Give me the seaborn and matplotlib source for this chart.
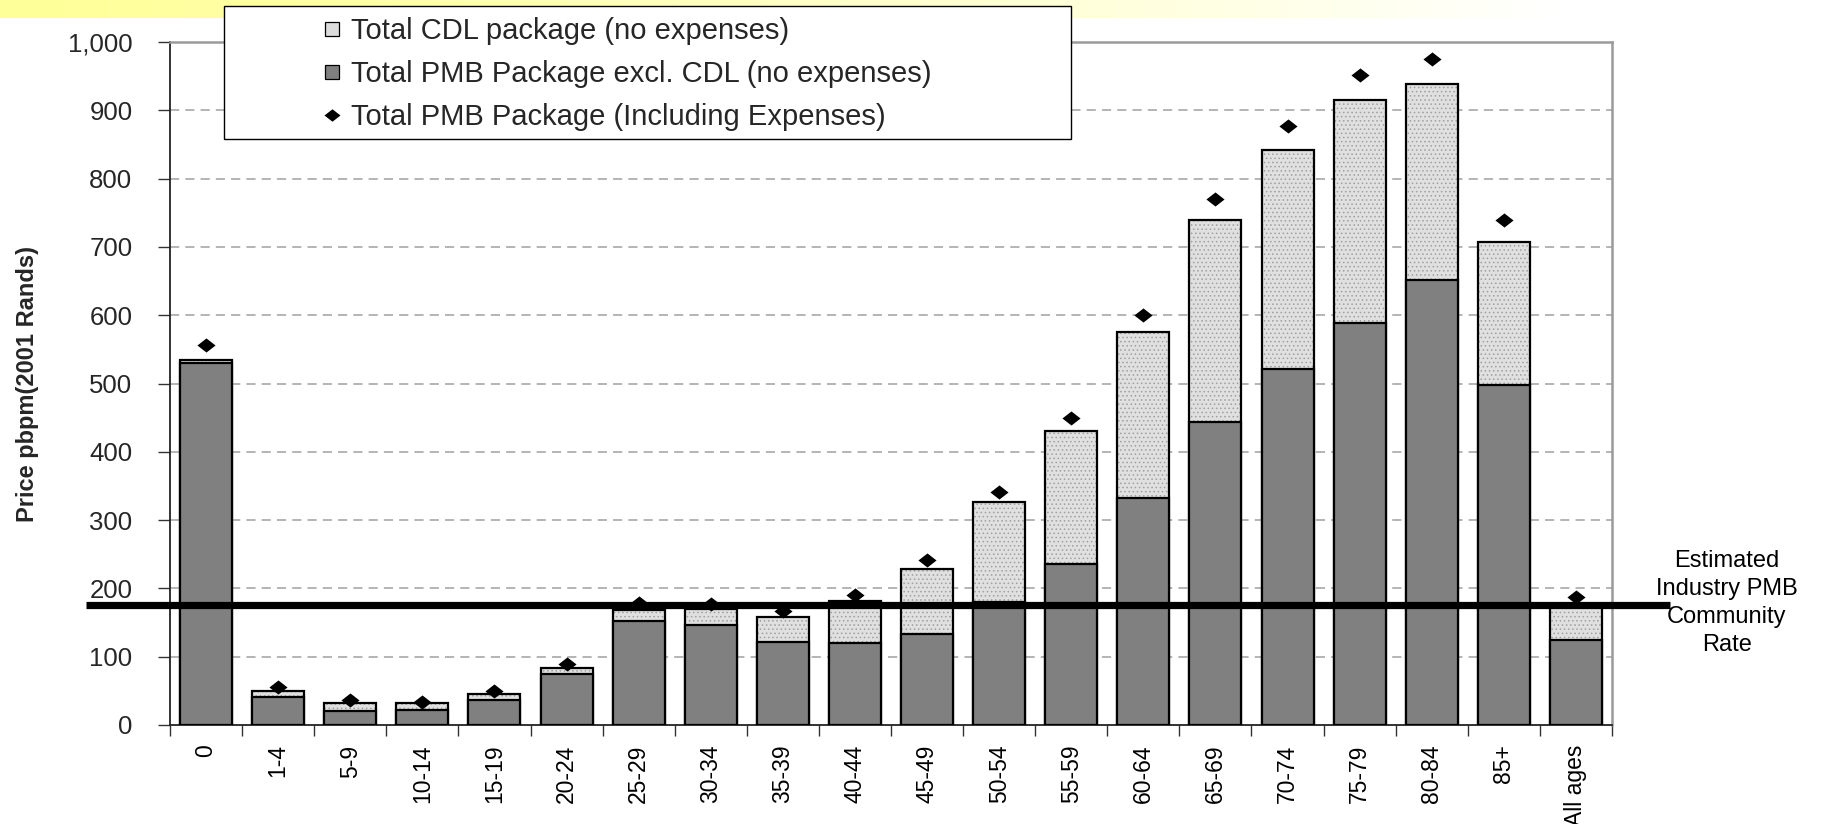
import numpy as np
import pandas as pd
import matplotlib
matplotlib.use("Agg")
import matplotlib.pyplot as plt
import seaborn as sns
from matplotlib.lines import Line2D
from matplotlib.patches import Rectangle
from matplotlib.ticker import FuncFormatter, FixedLocator

# ---------------- data ----------------
age_bands = ["0", "1-4", "5-9", "10-14", "15-19", "20-24", "25-29", "30-34",
             "35-39", "40-44", "45-49", "50-54", "55-59", "60-64", "65-69",
             "70-74", "75-79", "80-84", "85+", "All ages"]
pmb_excl_cdl = [530, 41, 20, 22, 37, 75, 153, 147, 121, 120, 133, 180, 235,
                333, 443, 521, 589, 651, 498, 124]
total_cdl_package = [535, 50, 32, 32, 45, 84, 169, 170, 158, 182, 228, 326,
                     430, 575, 740, 842, 915, 938, 707, 175]
total_pmb_incl_expenses = [557, 55, 37, 34, 50, 89, 178, 177, 167, 190, 241,
                           341, 450, 600, 770, 877, 952, 975, 739, 187]
community_rate = 176
y_ticks = [0, 100, 200, 300, 400, 500, 600, 700, 800, 900, 1000]

legend_labels = ["Total CDL package (no expenses)",
                 "Total PMB Package excl. CDL (no expenses)",
                 "Total PMB Package (Including Expenses)"]
y_label = "Price pbpm(2001 Rands)"
rate_label = "Estimated\nIndustry PMB\nCommunity\nRate"

df = pd.DataFrame({"age": age_bands, "pmb": pmb_excl_cdl,
                   "total": total_cdl_package, "incl": total_pmb_incl_expenses})
df["pos"] = np.arange(len(df))

# ---------------- style ----------------
sns.set_theme(style="white")
plt.rcParams["font.family"] = ["Liberation Sans", "DejaVu Sans"]
plt.rcParams["hatch.linewidth"] = 0.6

W, H = 1843, 824
fig = plt.figure(figsize=(W / 100, H / 100), dpi=100, facecolor="white")

# yellow strip at the very top
strip = fig.add_axes([0, 1 - 18 / H, 1, 18 / H])
grad = np.linspace(0, 1, 256)
rgb = np.zeros((1, 256, 3))
rgb[0, :, 0] = 1.0
rgb[0, :, 1] = 1.0
rgb[0, :, 2] = 0.60 + 0.40 * np.clip(grad / 0.85, 0, 1) ** 1.2
strip.imshow(rgb, aspect="auto", extent=[0, 1, 0, 1])
strip.set_axis_off()

L, R, T, B = 170, 1612, 42, 725
ax = fig.add_axes([L / W, 1 - B / H, (R - L) / W, (B - T) / H])

light = "#E0E0E0"
dark = "#808080"
bw = 0.72

# CDL (total) bars: stippled fill
sns.barplot(data=df, x="age", y="total", color=light, width=bw, saturation=1,
            edgecolor="#A0A0A0", linewidth=0, ax=ax, zorder=2)
for p in ax.patches:
    p.set_hatch("....")
# outlines for the totals
sns.barplot(data=df, x="age", y="total", width=bw, fill=False,
            edgecolor="black", linewidth=1.6, ax=ax, zorder=3)
# PMB excl CDL bars
sns.barplot(data=df, x="age", y="pmb", color=dark, width=bw, saturation=1,
            edgecolor="black", linewidth=1.6, ax=ax, zorder=4)

# diamonds
diamond = [(-1, 0), (0, 0.78), (1, 0), (0, -0.78), (-1, 0)]
sns.scatterplot(data=df, x="pos", y="incl", marker=diamond, s=170,
                color="black", edgecolor="black", linewidth=0, ax=ax,
                zorder=6, legend=False)

# community rate line extending beyond the axes
ax.axhline(community_rate, xmin=-0.0583, xmax=1.0402, color="black",
           linewidth=5.2, clip_on=False, zorder=7, solid_capstyle="butt")

# axes formatting
ax.set_xlim(-0.5, len(age_bands) - 0.5)
ax.set_ylim(0, 1000)
ax.yaxis.set_major_locator(FixedLocator(y_ticks))
ax.yaxis.set_major_formatter(FuncFormatter(lambda v, _: f"{v:,.0f}"))
ax.set_xticks(np.arange(len(age_bands)))
ax.set_xticklabels(age_bands, rotation=90, va="top", ha="center")
ax.xaxis.set_minor_locator(FixedLocator(np.arange(len(age_bands) + 1) - 0.5))
ax.tick_params(axis="x", which="major", length=0, pad=14, labelsize=16.5,
               colors="black")
ax.tick_params(axis="x", which="minor", length=8, width=1.0, color="#333333",
               bottom=True, direction="out")
ax.tick_params(axis="y", which="major", length=9, width=1.0, color="#333333",
               left=True, direction="out", pad=18, labelsize=18.5)
ax.set_xlabel("")
ax.set_ylabel(y_label, fontsize=17, fontweight="bold", labelpad=0)
ax.yaxis.set_label_coords(-0.091, 0.5)

ax.grid(False)
for yv in y_ticks[1:-1]:
    ax.axhline(yv, color="#A0A0A0", linewidth=1.1, linestyle=(0, (6, 4)),
               zorder=1)

ax.spines["left"].set_color("#222222")
ax.spines["left"].set_linewidth(1.3)
ax.spines["bottom"].set_color("#222222")
ax.spines["bottom"].set_linewidth(1.3)
ax.spines["top"].set_color("#9A9A9A")
ax.spines["top"].set_linewidth(1.8)
ax.spines["right"].set_color("#9A9A9A")
ax.spines["right"].set_linewidth(1.8)
for s in ax.spines.values():
    s.set_visible(True)

# right-hand annotation
fig.text(1727 / W, 1 - 603 / H, rate_label, ha="center", va="center",
         fontsize=17, linespacing=1.35, color="black")

# legend box (drawn above the plot area)
box = Rectangle((224 / W, 1 - 139 / H), (1071 - 224) / W, (139 - 6) / H,
                transform=fig.transFigure, facecolor="white",
                edgecolor="black", linewidth=1.0, zorder=10)
fig.add_artist(box)
handles = [
    Line2D([], [], linestyle="none", marker="s", markersize=10,
           markerfacecolor="#DCDCDC", markeredgecolor="black",
           markeredgewidth=0.9),
    Line2D([], [], linestyle="none", marker="s", markersize=10,
           markerfacecolor=dark, markeredgecolor="black",
           markeredgewidth=0.9),
    Line2D([], [], linestyle="none", marker=diamond, markersize=11.5,
           markerfacecolor="black", markeredgecolor="black",
           markeredgewidth=0),
]
leg = fig.legend(handles, legend_labels, loc="upper left",
                 bbox_to_anchor=(322 / W, 1 - 17 / H), frameon=False,
                 fontsize=21, handlelength=0.7, handletextpad=0.3,
                 labelspacing=0.52, borderpad=0, borderaxespad=0)
leg.set_zorder(11)

fig.savefig("out.png", dpi=100, facecolor="white")
